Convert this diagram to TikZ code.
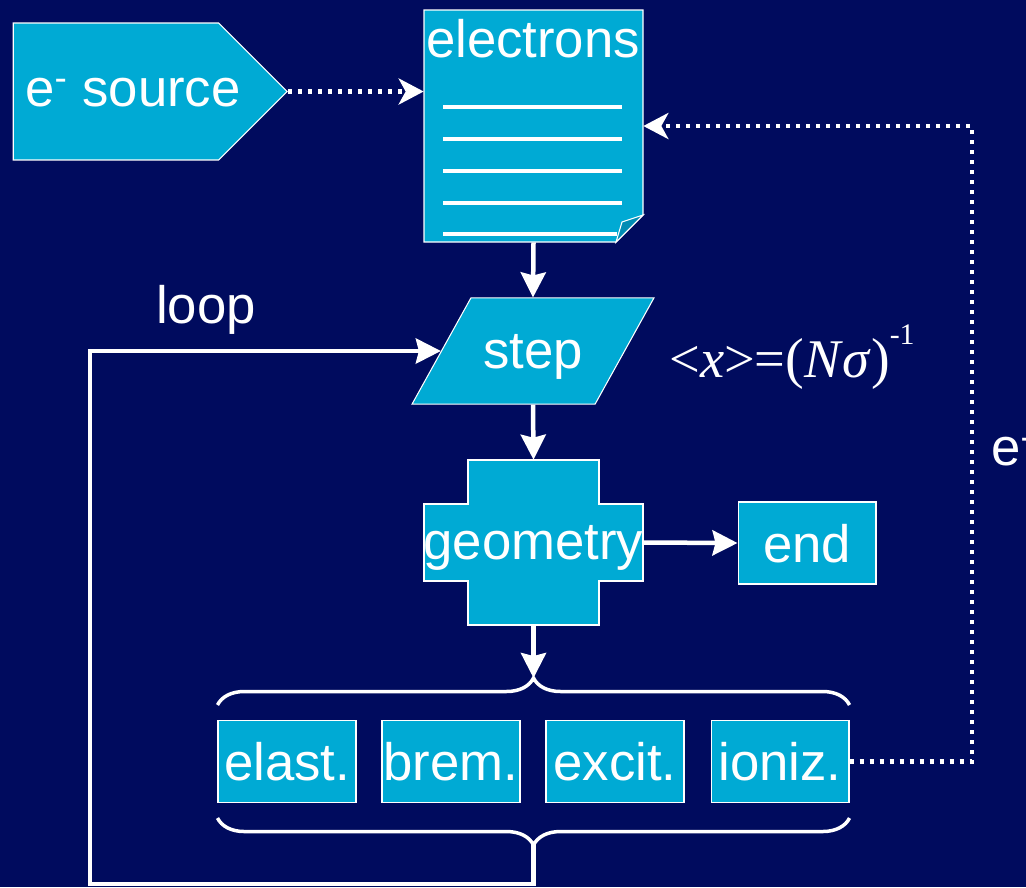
\documentclass[tikz,border=0pt]{standalone}
\usepackage{fontspec}
\setmainfont{Liberation Sans}
\newfontfamily\fmlfont{Liberation Serif}
\usetikzlibrary{arrows.meta, shapes.geometric, shapes.symbols, calc, decorations.pathreplacing}
\definecolor{navy}{RGB}{0,11,94}
\definecolor{cyanbox}{RGB}{0,170,212}
\definecolor{cyanfold}{RGB}{0,140,180}

\begin{document}
\begin{tikzpicture}[x=0.02cm, y=-0.02cm,
  shp/.style={draw=white, line width=0.6pt, fill=cyanbox},
  lbl/.style={text=white, font=\fontsize{30}{34}\selectfont, inner sep=0pt, text depth=0pt},
  box/.style={shp, lbl, minimum width=2.76cm, minimum height=1.64cm},
  fml/.style={text=white, inner sep=0pt, font=\fmlfont\fontsize{31}{32}\selectfont},
  arr/.style={-{Stealth[length=0.5cm, width=0.5cm, inset=0.06cm]}, white, line width=0.09cm},
  dotarr/.style={-{Stealth[length=0.5cm, width=0.52cm, inset=0.14cm]}, white, line width=0.09cm, dash pattern=on 0.09cm off 0.11cm},
  rule/.style={white, line width=0.08cm},
  brc/.style={decorate, decoration={brace, amplitude=0.54cm}, white, line width=0.07cm},
]
\clip (0,0) rectangle (1026,887);
\fill[navy] (0,0) rectangle (1026,887);

% Source of electrons
\node[shp, signal, signal to=east, signal pointer angle=90, minimum width=5.48cm, minimum height=2.74cm] (src) at (116,91.5) {};
\node[lbl] (srctxt) at (133,92) {e\textsuperscript{-} source};

% Electron list (document with folded corner)
\draw[shp] (424,10) -- (643,10) -- (643,215) -- (616,242) -- (424,242) -- cycle;
\foreach \y/\xe in {107/622, 139/622, 171/622, 203/622, 234/617}
  \draw[rule] (443,\y) -- (\xe,\y);
\draw[shp, fill=cyanfold] (643,215) -- (622,222) -- (616,242) -- cycle;
\node[minimum width=4.38cm, minimum height=4.64cm, inner sep=0pt] (doc) at (533.5,126) {};
\node[lbl] (doctitle) at (533,38) {electrons};

% Step
\node[shp, lbl, trapezium, trapezium left angle=61, trapezium right angle=119, inner xsep=7pt, inner ysep=20.5pt] (step) at (533,351) {step};
\node[fml] (xmean) at (792,357) {<\textit{x}>={\fontsize{32}{32}\selectfont (}\textit{N\kern1pt σ}{\fontsize{32}{32}\selectfont )}\raisebox{0.6em}{\fontsize{17}{17}\selectfont -1}};

% Geometry (cross)
\draw[shp] (468,460) -- (599,460) -- (599,504) -- (643,504) -- (643,581) -- (599,581) -- (599,625) -- (468,625) -- (468,581) -- (424,581) -- (424,504) -- (468,504) -- cycle;
\node[lbl, minimum width=4.38cm, minimum height=3.3cm] (geo) at (533.5,542.5) {geometry};
\node[box] (end) at (807,543) {end};

% Processes
\node[box] (elast) at (287,761.5) {elast.};
\node[box] (brem) at (451,761.5) {brem.};
\node[box] (excit) at (615,761.5) {excit.};
\node[box] (ioniz) at (780,761.5) {ioniz.};

% Braces
\draw[brc] ($(elast.north west)+(0,-15)$) -- ($(ioniz.north east)+(0,-15)$);
\draw[brc] ($(ioniz.south east)+(0,15)$) -- ($(elast.south west)+(0,15)$);
\coordinate (top) at (533.5,678);
\coordinate (bot) at (533.5,844);
\coordinate (lp) at (90,884);
\coordinate (fb) at (972,126);

% Arrows
\draw[dotarr] (src.east) -- (src.east -| doc.west);
\draw[arr] (doc.south) -- (step.north);
\draw[arr] (step.south) -- (geo.north);
\draw[arr] (geo.east) -- (end.west);
\draw[arr] (geo.south) -- (top);
\draw[arr] (bot) |- (lp) |- (step.west);
\draw[dotarr] (ioniz.east) -| (fb) -- (fb -| doc.east);

% Labels
\node[lbl] (looplbl) at (206,304) {loop};
\node[lbl, anchor=base west] (elbl) at (991,465) {e\textsuperscript{-}};
\end{tikzpicture}
\end{document}
